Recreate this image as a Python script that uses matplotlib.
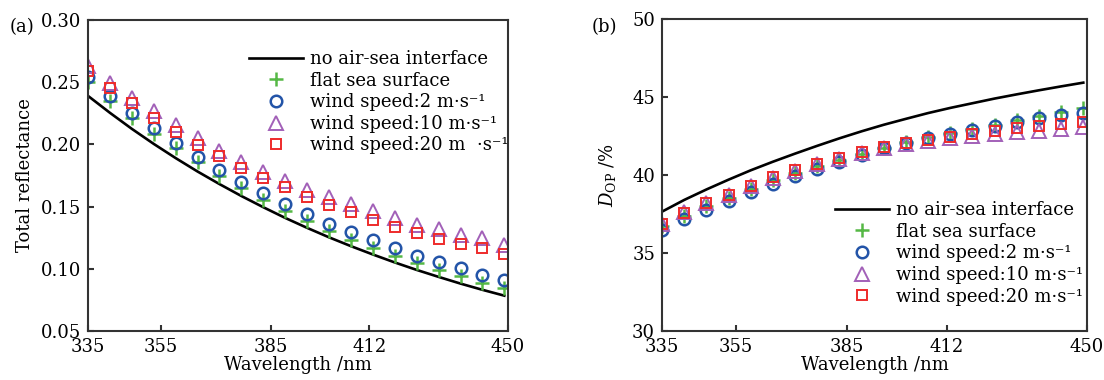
import numpy as np
import matplotlib
matplotlib.use('Agg')
import matplotlib.pyplot as plt

# wavelengths of the simulated points (nm)
wl = [335, 341, 347, 353, 359, 365, 371, 377, 383, 389,
      395, 401, 407, 413, 419, 425, 431, 437, 443, 449]
xticks = [335, 355, 385, 412, 450]

labels_a = ['no air-sea interface', 'flat sea surface',
            'wind speed:2 m\u00b7s\u207b\u00b9', 'wind speed:10 m\u00b7s\u207b\u00b9',
            'wind speed:20 m  \u00b7s\u207b\u00b9']
labels_b = ['no air-sea interface', 'flat sea surface',
            'wind speed:2 m\u00b7s\u207b\u00b9', 'wind speed:10 m\u00b7s\u207b\u00b9',
            'wind speed:20 m\u00b7s\u207b\u00b9']

# (a) total reflectance
refl_none = [0.2390, 0.2254, 0.2125, 0.2004, 0.1890, 0.1782, 0.1681, 0.1585, 0.1495, 0.1409,
             0.1329, 0.1253, 0.1182, 0.1115, 0.1051, 0.0991, 0.0935, 0.0881, 0.0831, 0.0784]
refl_flat = [0.2502, 0.2352, 0.2214, 0.2087, 0.1968, 0.1855, 0.1748, 0.1647, 0.1557, 0.1467,
             0.1385, 0.1306, 0.1235, 0.1169, 0.1105, 0.1043, 0.0988, 0.0941, 0.0888, 0.0847]
refl_w2 = [0.2540, 0.2393, 0.2256, 0.2130, 0.2012, 0.1901, 0.1795, 0.1695, 0.1607, 0.1520,
           0.1440, 0.1363, 0.1293, 0.1230, 0.1167, 0.1106, 0.1052, 0.1006, 0.0953, 0.0912]
refl_w10 = [0.2630, 0.2493, 0.2373, 0.2266, 0.2155, 0.2048, 0.1946, 0.1860, 0.1778, 0.1705,
            0.1632, 0.1577, 0.1519, 0.1465, 0.1406, 0.1352, 0.1316, 0.1272, 0.1244, 0.1195]
refl_w20 = [0.2590, 0.2450, 0.2335, 0.2213, 0.2100, 0.1998, 0.1905, 0.1812, 0.1728, 0.1655,
            0.1580, 0.1515, 0.1455, 0.1395, 0.1340, 0.1287, 0.1243, 0.1198, 0.1164, 0.1122]

# (b) degree of polarization (%)
dop_none = [37.65, 38.40, 39.07, 39.70, 40.30, 40.85, 41.37, 41.87, 42.35, 42.80,
            43.22, 43.60, 43.97, 44.30, 44.60, 44.90, 45.17, 45.43, 45.68, 45.92]
dop_flat = [36.70, 37.40, 38.00, 38.55, 39.10, 39.65, 40.12, 40.55, 40.95, 41.35,
            41.75, 42.10, 42.42, 42.68, 42.95, 43.20, 43.50, 43.75, 44.02, 44.30]
dop_w2 = [36.50, 37.15, 37.75, 38.33, 38.90, 39.43, 39.93, 40.40, 40.82, 41.25,
          41.70, 42.02, 42.36, 42.63, 42.90, 43.15, 43.42, 43.63, 43.85, 44.00]
dop_w10 = [36.85, 37.60, 38.20, 38.72, 39.30, 39.82, 40.28, 40.68, 41.05, 41.40,
           41.75, 42.00, 42.20, 42.40, 42.50, 42.65, 42.75, 42.85, 42.95, 43.05]
dop_w20 = [36.86, 37.58, 38.19, 38.72, 39.30, 39.85, 40.30, 40.70, 41.10, 41.45,
           41.78, 42.05, 42.25, 42.42, 42.60, 42.80, 43.00, 43.15, 43.28, 43.38]

plt.rcParams['font.family'] = 'DejaVu Serif'
plt.rcParams['mathtext.fontset'] = 'dejavuserif'
plt.rcParams['font.size'] = 13

fig = plt.figure(figsize=(11.04, 3.8), dpi=100)


def plotpanel(ax, series, labels):
    none, flat, w2, w10, w20 = series
    ax.plot(wl, none, c='k', lw=1.9, label=labels[0])
    ax.plot(wl, flat, ls='none', marker='+', ms=10.5, mew=1.8, c='#55b845', label=labels[1])
    ax.plot(wl, w2, ls='none', marker='o', ms=8.3, mew=1.8, mfc='none', c='#2354a8', label=labels[2])
    ax.plot(wl, w10, ls='none', marker='^', ms=10, mew=1.4, mfc='none', c='#a260b8', label=labels[3])
    ax.plot(wl, w20, ls='none', marker='s', ms=7.5, mew=1.4, mfc='none', c='#ee2b2b', label=labels[4])
    ax.set_xlim(335, 450)
    ax.set_xticks(xticks)
    ax.set_xlabel('Wavelength /nm', labelpad=0)
    for s in ax.spines.values():
        s.set_linewidth(1.5)
        s.set_color('#333333')
    ax.tick_params(direction='in', length=4, width=1.5, color='#333333')
    ax.tick_params(axis='x', pad=5)
    ax.tick_params(axis='y', pad=5)


#REFLECTANCE
ax1 = fig.add_axes([88 / 1104, 1 - 331 / 380, 420 / 1104, 311 / 380])
plotpanel(ax1, [refl_none, refl_flat, refl_w2, refl_w10, refl_w20], labels_a)
ax1.set_ylim(0.05, 0.30)
ax1.set_yticks([0.05, 0.10, 0.15, 0.20, 0.25, 0.30])
ax1.set_yticklabels(['0.05', '0.10', '0.15', '0.20', '0.25', '0.30'])
ax1.set_ylabel('Total reflectance', labelpad=5)
ax1.legend(loc='upper right', bbox_to_anchor=(1.01, 0.915), frameon=False, numpoints=1,
           handlelength=3.0, handletextpad=0.4, labelspacing=0.2, borderpad=0.2,
           borderaxespad=0)

#DOP
ax2 = fig.add_axes([662 / 1104, 1 - 331 / 380, 425 / 1104, 312 / 380])
plotpanel(ax2, [dop_none, dop_flat, dop_w2, dop_w10, dop_w20], labels_b)
ax2.set_ylim(30, 50)
ax2.set_yticks([30, 35, 40, 45, 50])
ax2.set_ylabel(r'$D_{\mathrm{OP}}$ /%', labelpad=10)
ax2.legend(loc='lower right', bbox_to_anchor=(1.0, 0.07), frameon=False, numpoints=1,
           handlelength=3.0, handletextpad=0.4, labelspacing=0.2, borderpad=0.2,
           borderaxespad=0)

fig.text(0.009, 0.915, '(a)', fontsize=13)
fig.text(0.536, 0.915, '(b)', fontsize=13)

fig.savefig('out.png', dpi=100)
